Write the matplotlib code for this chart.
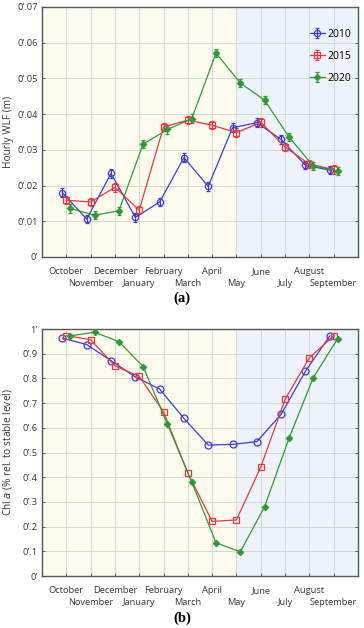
import matplotlib
matplotlib.use("Agg")
import matplotlib.pyplot as plt
import numpy as np

months = ["October", "November", "December", "January", "February", "March",
          "April", "May", "June", "July", "August", "September"]
years = ["2010", "2015", "2020"]

wlf_2010 = [0.0180, 0.0106, 0.0234, 0.0111, 0.0154, 0.0278, 0.0198, 0.0362, 0.0376, 0.0329, 0.0257, 0.0243]
wlf_2015 = [0.0159, 0.0154, 0.0195, 0.0131, 0.0364, 0.0383, 0.0369, 0.0348, 0.0377, 0.0308, 0.0260, 0.0245]
wlf_2020 = [0.0136, 0.0117, 0.0129, 0.0316, 0.0357, 0.0387, 0.0571, 0.0487, 0.0439, 0.0336, 0.0255, 0.0241]
wlf_err = [0.0012] * 12

chl_2010 = [0.963, 0.937, 0.872, 0.806, 0.757, 0.638, 0.530, 0.533, 0.544, 0.655, 0.829, 0.972]
chl_2015 = [0.973, 0.957, 0.851, 0.808, 0.665, 0.416, 0.221, 0.227, 0.441, 0.715, 0.883, 0.973]
chl_2020 = [0.972, 0.987, 0.949, 0.848, 0.615, 0.381, 0.134, 0.098, 0.281, 0.557, 0.803, 0.960]

wlf_ticks = [0, 0.01, 0.02, 0.03, 0.04, 0.05, 0.06, 0.07]
wlf_ticklabels = ["0'", "0'.01", "0'.02", "0'.03", "0'.04", "0'.05", "0'.06", "0'.07"]
chl_ticks = [0, 0.1, 0.2, 0.3, 0.4, 0.5, 0.6, 0.7, 0.8, 0.9, 1.0]
chl_ticklabels = ["0'", "0'.1", "0'.2", "0'.3", "0'.4", "0'.5", "0'.6", "0'.7", "0'.8", "0'.9", "1'"]

colors = ["#3b3bdc", "#e8383c", "#2f9a32"]
markers = ["o", "s", "D"]
offsets = [-0.16, 0.0, 0.16]

plt.rcParams["font.family"] = ["Open Sans", "DejaVu Sans"]
plt.rcParams["font.size"] = 6.7

fig = plt.figure(figsize=(3.64, 6.28), dpi=100)
ax1 = fig.add_axes([0.1154, 0.5908, 0.868, 0.3981])
ax2 = fig.add_axes([0.1154, 0.0828, 0.868, 0.3933])

x = np.arange(len(months))


def style_axis(ax):
    ax.set_xlim(-1, 12)
    ax.axvspan(-1, 7, color="#fdfaee", zorder=0)
    ax.axvspan(7, 12, color="#eef2fb", zorder=0)
    ax.set_xticks(x[0::2])
    ax.set_xticklabels(months[0::2], color="#333333")
    ax.set_xticks(x[1::2], minor=True)
    ax.set_xticklabels(months[1::2], minor=True, color="#333333")
    ax.grid(True, which="both", axis="x", color="#d6d6d6", linewidth=0.7, zorder=1)
    ax.grid(True, which="major", axis="y", color="#d6d6d6", linewidth=0.7, zorder=1)
    ax.set_axisbelow(True)
    ax.tick_params(axis="both", which="both", direction="in", length=2.5, width=0.7,
                   colors="#555555", labelcolor="#333333", top=False, right=True)
    ax.tick_params(axis="x", which="major", pad=7)
    ax.tick_params(axis="x", which="minor", pad=15.5)
    ax.tick_params(axis="y", which="major", pad=3)
    for s in ax.spines.values():
        s.set_color("#555555")
        s.set_linewidth(1.0)


# (a) Hourly WLF
wlf = [wlf_2010, wlf_2015, wlf_2020]
handles = []
for i, yr in enumerate(years):
    ms = 4.5 if markers[i] != "D" else 3.2
    mfc = "none" if i < 2 else colors[i]
    h = ax1.errorbar(x + offsets[i], wlf[i], yerr=wlf_err, color=colors[i],
                     marker=markers[i], markersize=ms, markerfacecolor=mfc,
                     markeredgewidth=0.9, linewidth=0.9, elinewidth=0.8,
                     capsize=1.5, capthick=0.8, label=yr, zorder=3)
    handles.append(h)
style_axis(ax1)
ax1.set_ylim(0, 0.07)
ax1.set_yticks(wlf_ticks)
ax1.set_yticklabels(wlf_ticklabels)
ax1.set_ylabel("Hourly WLF (m)", color="#333333", fontsize=7.3)
ax1.yaxis.set_label_coords(-0.09, 0.5)
leg = ax1.legend(handles=handles, loc="upper right", bbox_to_anchor=(1.01, 0.95),
                 frameon=False, labelspacing=1.05, handlelength=1.4,
                 handletextpad=0.3, fontsize=7.5)

# (b) Chl a
chl = [chl_2010, chl_2015, chl_2020]
for i, yr in enumerate(years):
    ms = 5 if markers[i] != "D" else 3.2
    mfc = "none" if i < 2 else colors[i]
    ax2.plot(x + offsets[i], chl[i], color=colors[i], marker=markers[i],
             markersize=ms, markerfacecolor=mfc, markeredgewidth=0.9,
             linewidth=0.9, zorder=3)
style_axis(ax2)
ax2.set_ylim(0, 1.0)
ax2.set_yticks(chl_ticks)
ax2.set_yticklabels(chl_ticklabels)
ax2.set_ylabel("Chl $\\it{a}$ (% rel. to stable level)", color="#333333", fontsize=7.3)
ax2.yaxis.set_label_coords(-0.09, 0.5)

fig.text(0.5, 0.525, "(a)", ha="center", va="center", fontsize=10.5,
         fontweight="bold", family=["Liberation Serif", "DejaVu Serif"])
fig.text(0.5, 0.015, "(b)", ha="center", va="center", fontsize=10.5,
         fontweight="bold", family=["Liberation Serif", "DejaVu Serif"])

fig.savefig("out.png", dpi=100)
